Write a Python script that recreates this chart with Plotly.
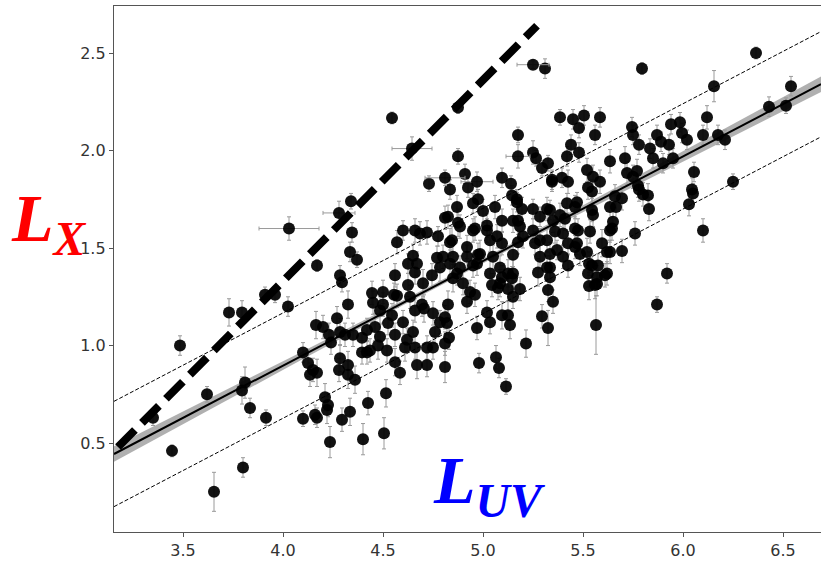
import plotly.graph_objects as go

# ---------------- data ----------------
uv = [
    3.445, 3.485, 3.35, 3.62, 3.655, 3.80, 3.795, 3.81, 3.835, 3.915,
    3.73, 3.795, 3.91, 3.96, 4.025, 4.10, 4.10, 4.545, 4.875, 4.875,
    5.31, 5.175, 5.25, 5.265, 5.325, 5.295, 5.345, 5.385, 4.73, 4.835,
    4.91, 4.925, 5.095, 5.14, 4.34, 4.345, 4.335, 4.37, 4.17, 4.285,
    4.295, 4.60, 4.57, 4.66, 4.72, 4.775, 4.65, 4.67, 4.625, 4.825,
    4.87, 4.845, 4.885, 4.95, 4.975, 5.0, 5.06, 5.095, 5.17, 5.195,
    5.25, 5.32, 5.35, 5.175, 5.25, 5.285, 5.175, 4.95, 5.02, 5.07,
    4.92, 4.985, 5.05, 4.85, 4.80, 4.785, 4.885, 4.97, 5.085, 5.15,
    5.285, 5.32, 5.37, 4.56, 4.745, 5.145, 5.17, 5.345, 5.395, 5.48,
    5.525, 4.81, 4.875, 4.96, 5.02, 5.15, 5.185, 5.285, 5.335, 5.385,
    5.42, 5.47, 5.55, 4.685, 4.835, 5.035, 5.095, 5.20, 5.26, 5.32,
    5.36, 5.40, 5.46, 5.535, 5.47, 5.52, 5.40, 5.335, 5.275, 5.035,
    5.085, 4.835, 4.77, 4.85, 4.92, 4.975, 5.15, 5.125, 5.525, 5.56,
    4.825, 4.705, 5.02, 5.035, 5.095, 5.125, 5.135, 4.97, 5.215, 4.98,
    5.065, 5.08, 5.115, 4.81, 4.72, 5.295, 5.325, 5.35, 5.325, 5.53,
    5.57, 5.565, 5.87, 4.81, 4.83, 4.75, 4.72, 4.82, 4.785, 4.76,
    4.90, 4.935, 4.96, 4.92, 5.045, 5.095, 5.145, 5.075, 5.125, 5.185,
    5.15, 5.335, 5.335, 4.87, 4.70, 4.95, 5.545, 5.57, 5.425, 4.325,
    4.445, 4.50, 4.45, 4.50, 4.555, 4.625, 4.66, 4.27, 4.165, 4.20,
    4.23, 4.24, 4.285, 4.31, 4.35, 4.395, 4.42, 4.46, 4.485, 4.525,
    4.545, 4.485, 4.60, 4.56, 4.62, 4.65, 4.475, 4.42, 4.395, 4.435,
    4.52, 4.61, 4.56, 4.585, 4.67, 4.66, 4.125, 4.15, 4.17, 4.135,
    4.285, 4.325, 4.28, 4.325, 4.36, 4.21, 4.225, 4.22, 4.16, 4.17,
    4.295, 4.335, 4.425, 4.515, 4.235, 4.40, 4.505, 4.57, 4.635, 4.66,
    4.695, 4.75, 4.81, 5.795, 6.365, 6.155, 6.54, 6.43, 6.515, 6.12,
    6.10, 6.175, 6.21, 5.94, 5.985, 5.995, 6.02, 5.87, 5.89, 5.93,
    5.835, 5.745, 5.75, 5.78, 5.85, 5.90, 5.95, 6.055, 6.045, 6.05,
    6.03, 6.25, 6.10, 5.92, 5.83, 5.76, 5.80, 5.775, 5.77, 5.71,
    5.72, 5.635, 5.585, 5.505, 5.45, 5.48, 5.56, 5.44, 5.42, 5.52,
    5.55, 5.585, 5.66, 5.695, 5.635, 5.425, 5.545, 5.46, 5.545, 5.41,
    5.475, 5.635, 5.65, 5.595, 5.635, 5.695, 5.575, 5.62, 5.53, 5.46,
    5.485, 5.425, 5.62, 5.61, 5.645, 5.665, 5.825, 5.78, 5.75,
]
lx = [
    0.46, 1.00, 0.63, 0.75, 0.25, 0.375, 0.77, 0.81, 0.68, 0.63,
    1.17, 1.17, 1.26, 1.26, 1.20, 0.965, 0.625, 2.167, 1.97, 2.22,
    2.42, 2.08, 1.99, 1.96, 1.935, 1.91, 1.84, 2.17, 1.83, 1.80,
    1.88, 1.81, 1.86, 1.83, 1.74, 1.58, 1.48, 1.44, 1.41, 1.36,
    1.325, 1.59, 1.53, 1.59, 1.58, 1.56, 1.46, 1.42, 1.42, 1.66,
    1.71, 1.54, 1.61, 1.73, 1.75, 1.69, 1.71, 1.64, 1.75, 1.70,
    1.70, 1.70, 1.64, 1.64, 1.59, 1.54, 1.53, 1.59, 1.59, 1.56,
    1.505, 1.47, 1.455, 1.455, 1.455, 1.40, 1.40, 1.42, 1.40, 1.37,
    1.455, 1.40, 1.49, 1.36, 1.36, 1.77, 1.735, 1.85, 1.86, 1.99,
    1.81, 1.655, 1.63, 1.60, 1.615, 1.64, 1.61, 1.66, 1.695, 1.67,
    1.73, 1.735, 1.67, 1.575, 1.53, 1.54, 1.525, 1.56, 1.525, 1.54,
    1.585, 1.575, 1.60, 1.585, 1.525, 1.48, 1.455, 1.47, 1.375, 1.37,
    1.32, 1.42, 1.45, 1.345, 1.455, 1.465, 1.465, 1.37, 1.37, 1.31,
    1.21, 1.19, 1.17, 1.12, 1.155, 1.155, 1.105, 1.09, 1.01, 0.91,
    0.94, 0.885, 0.79, 0.89, 0.90, 1.15, 1.09, 1.225, 1.285, 1.305,
    1.315, 1.105, 1.21, 1.01, 1.04, 0.99, 0.99, 1.115, 1.12, 1.07,
    1.32, 1.275, 1.26, 1.225, 1.31, 1.35, 1.345, 1.295, 1.29, 1.29,
    1.25, 1.35, 1.40, 1.37, 1.32, 1.41, 1.41, 1.35, 1.41, 1.21,
    1.27, 1.275, 1.22, 1.21, 1.26, 1.31, 1.375, 1.14, 1.105, 1.095,
    1.055, 1.015, 1.07, 1.055, 1.055, 1.04, 1.08, 1.095, 1.045, 1.115,
    1.155, 1.18, 1.12, 1.055, 1.03, 1.07, 1.00, 0.965, 0.965, 0.975,
    0.975, 0.99, 0.915, 0.86, 0.90, 0.99, 0.91, 0.875, 0.86, 0.85,
    0.935, 0.90, 0.875, 0.85, 0.825, 0.735, 0.695, 0.67, 0.645, 0.63,
    0.62, 0.66, 0.705, 0.755, 0.505, 0.52, 0.55, 1.255, 1.25, 1.18,
    1.21, 1.165, 1.145, 2.42, 2.50, 2.33, 2.33, 2.225, 2.23, 2.17,
    2.08, 2.08, 2.055, 2.135, 2.145, 2.09, 2.055, 2.08, 2.045, 2.03,
    2.01, 2.12, 2.08, 2.03, 1.96, 1.935, 1.96, 1.89, 1.80, 1.78,
    1.725, 1.84, 1.59, 1.37, 1.70, 1.575, 1.775, 1.82, 1.895, 1.96,
    1.885, 1.945, 2.17, 2.18, 2.16, 2.115, 2.08, 2.03, 1.97, 1.90,
    1.865, 1.84, 1.765, 1.755, 1.71, 1.84, 1.79, 1.71, 1.695, 1.65,
    1.59, 1.59, 1.635, 1.525, 1.48, 1.485, 1.41, 1.37, 1.42, 1.505,
    1.47, 1.525, 1.48, 1.36, 1.60, 1.71, 1.77, 1.80, 1.865,
]
lx_err = [
    0.03, 0.05, 0.04, 0.04, 0.10, 0.05, 0.07, 0.08, 0.05, 0.04,
    0.07, 0.06, 0.04, 0.04, 0.05, 0.05, 0.04, 0.03, 0.04, 0.03,
    0.05, 0.04, 0.06, 0.04, 0.04, 0.04, 0.05, 0.04, 0.04, 0.05,
    0.05, 0.05, 0.05, 0.04, 0.04, 0.05, 0.05, 0.04, 0.03, 0.05,
    0.05, 0.05, 0.06, 0.06, 0.06, 0.05, 0.06, 0.06, 0.05, 0.06,
    0.06, 0.07, 0.06, 0.05, 0.05, 0.06, 0.06, 0.06, 0.05, 0.06,
    0.05, 0.06, 0.06, 0.07, 0.06, 0.06, 0.06, 0.06, 0.06, 0.06,
    0.06, 0.07, 0.06, 0.06, 0.06, 0.07, 0.06, 0.06, 0.06, 0.07,
    0.06, 0.06, 0.05, 0.06, 0.06, 0.05, 0.05, 0.05, 0.05, 0.05,
    0.06, 0.06, 0.07, 0.06, 0.06, 0.06, 0.06, 0.05, 0.05, 0.06,
    0.05, 0.05, 0.06, 0.06, 0.07, 0.06, 0.06, 0.06, 0.06, 0.06,
    0.06, 0.06, 0.06, 0.06, 0.06, 0.07, 0.06, 0.06, 0.07, 0.07,
    0.07, 0.07, 0.06, 0.07, 0.06, 0.06, 0.06, 0.07, 0.07, 0.07,
    0.07, 0.07, 0.06, 0.06, 0.07, 0.07, 0.07, 0.06, 0.07, 0.05,
    0.06, 0.05, 0.04, 0.08, 0.06, 0.06, 0.09, 0.06, 0.06, 0.07,
    0.06, 0.15, 0.04, 0.06, 0.06, 0.06, 0.06, 0.06, 0.06, 0.06,
    0.06, 0.06, 0.06, 0.06, 0.06, 0.06, 0.06, 0.06, 0.06, 0.06,
    0.06, 0.06, 0.06, 0.06, 0.07, 0.06, 0.06, 0.06, 0.06, 0.07,
    0.06, 0.06, 0.06, 0.06, 0.06, 0.06, 0.06, 0.06, 0.07, 0.06,
    0.06, 0.06, 0.07, 0.06, 0.06, 0.07, 0.06, 0.07, 0.07, 0.06,
    0.06, 0.07, 0.06, 0.06, 0.06, 0.06, 0.07, 0.06, 0.06, 0.06,
    0.06, 0.07, 0.07, 0.06, 0.07, 0.06, 0.07, 0.06, 0.07, 0.06,
    0.07, 0.07, 0.06, 0.07, 0.07, 0.07, 0.06, 0.07, 0.05, 0.05,
    0.06, 0.07, 0.06, 0.07, 0.08, 0.08, 0.08, 0.06, 0.06, 0.06,
    0.06, 0.06, 0.06, 0.03, 0.03, 0.08, 0.05, 0.05, 0.04, 0.06,
    0.05, 0.05, 0.05, 0.05, 0.05, 0.05, 0.05, 0.05, 0.05, 0.05,
    0.05, 0.05, 0.05, 0.05, 0.05, 0.05, 0.05, 0.05, 0.06, 0.05,
    0.06, 0.04, 0.06, 0.05, 0.06, 0.06, 0.06, 0.06, 0.06, 0.06,
    0.06, 0.06, 0.05, 0.05, 0.05, 0.05, 0.05, 0.05, 0.05, 0.06,
    0.06, 0.06, 0.06, 0.06, 0.06, 0.06, 0.06, 0.06, 0.06, 0.06,
    0.06, 0.06, 0.06, 0.07, 0.06, 0.06, 0.06, 0.06, 0.06, 0.06,
    0.06, 0.06, 0.06, 0.06, 0.06, 0.06, 0.06, 0.06, 0.06,
]

# points that also carry a horizontal error bar
uv_h = [4.03, 4.645, 5.25, 5.175, 4.81, 4.97, 4.28]
lx_h = [1.60, 2.01, 2.44, 1.97, 1.86, 1.84, 1.68]
uv_h_err = [0.15, 0.10, 0.08, 0.06, 0.10, 0.08, 0.08]
lx_h_err = [0.06, 0.06, 0.02, 0.06, 0.04, 0.05, 0.06]

# best-fit line (end points) and its scatter envelope
fit_uv = [3.155, 6.69]
fit_lx = [0.444, 2.34]
scatter_offset = 0.27

# confidence band around the fit
band_uv = [3.155, 3.6, 4.1, 4.6, 4.9, 5.2, 5.7, 6.2, 6.69]
band_half = [0.04, 0.03, 0.02, 0.013, 0.012, 0.013, 0.02, 0.03, 0.04]

# heavy dashed reference line (end points)
ref_uv = [3.175, 5.27]
ref_lx = [0.48, 2.64]

x_ticks = [3.5, 4.0, 4.5, 5.0, 5.5, 6.0, 6.5]
y_ticks = [0.5, 1.0, 1.5, 2.0, 2.5]

# ---------------- figure ----------------
slope = (fit_lx[1] - fit_lx[0]) / (fit_uv[1] - fit_uv[0])
band_mid = [fit_lx[0] + slope * (u - fit_uv[0]) for u in band_uv]
band_hi = [m + h for m, h in zip(band_mid, band_half)]
band_lo = [m - h for m, h in zip(band_mid, band_half)]

fig = go.Figure()

fig.add_trace(go.Scatter(
    x=band_uv + band_uv[::-1], y=band_hi + band_lo[::-1],
    fill="toself", fillcolor="rgba(150,150,150,0.75)",
    line=dict(width=0), mode="lines", hoverinfo="skip", showlegend=False))

fig.add_trace(go.Scatter(
    x=uv, y=lx, mode="markers",
    marker=dict(color="#000000", size=12, opacity=0.93, line=dict(width=0)),
    error_y=dict(type="data", array=lx_err, color="#9a9a9a", thickness=1, width=2),
    showlegend=False))

fig.add_trace(go.Scatter(
    x=uv_h, y=lx_h, mode="markers",
    marker=dict(color="#000000", size=12, opacity=0.93, line=dict(width=0)),
    error_x=dict(type="data", array=uv_h_err, color="#9a9a9a", thickness=1, width=2),
    error_y=dict(type="data", array=lx_h_err, color="#9a9a9a", thickness=1, width=2),
    showlegend=False))

fig.add_trace(go.Scatter(
    x=fit_uv, y=fit_lx, mode="lines",
    line=dict(color="black", width=2), showlegend=False))

for sgn in (1, -1):
    fig.add_trace(go.Scatter(
        x=fit_uv, y=[v + sgn * scatter_offset for v in fit_lx], mode="lines",
        line=dict(color="black", width=1, dash="4px,2px"), showlegend=False))

fig.add_trace(go.Scatter(
    x=ref_uv, y=ref_lx, mode="lines",
    line=dict(color="black", width=8, dash="24px,10px"), showlegend=False))

axis_common = dict(
    showgrid=False, zeroline=False, showline=True, linecolor="#555555", linewidth=1.3,
    ticks="outside", ticklen=4, tickwidth=1, tickcolor="#555555",
    tickfont=dict(family="DejaVu Sans", size=16, color="#333333"))

fig.update_xaxes(range=[3.155, 6.69], tickvals=x_ticks,
                 ticktext=[f"{v:.1f}" for v in x_ticks], mirror=True, **axis_common)
fig.update_yaxes(range=[0.044, 2.741], tickvals=y_ticks,
                 ticktext=[f"{v:.1f}" for v in y_ticks], **axis_common)

label_font = dict(family="Liberation Serif", size=68, weight="bold", style="italic")
fig.add_annotation(text="L<sub>X</sub>", xref="paper", yref="paper",
                   x=-0.148, y=0.588, xanchor="left", yanchor="middle",
                   showarrow=False, font=dict(color="#ff0000", **label_font))
fig.add_annotation(text="L<sub>UV</sub>", xref="paper", yref="paper",
                   x=0.448, y=0.090, xanchor="left", yanchor="middle",
                   showarrow=False, font=dict(color="#0000ff", **label_font))

fig.update_layout(width=821, height=564, margin=dict(l=114, r=0, t=6, b=32, pad=0),
                  plot_bgcolor="white", paper_bgcolor="white")

fig.write_html("out.html", config={"displayModeBar": False},
               post_script="document.body.style.margin='0px';")
